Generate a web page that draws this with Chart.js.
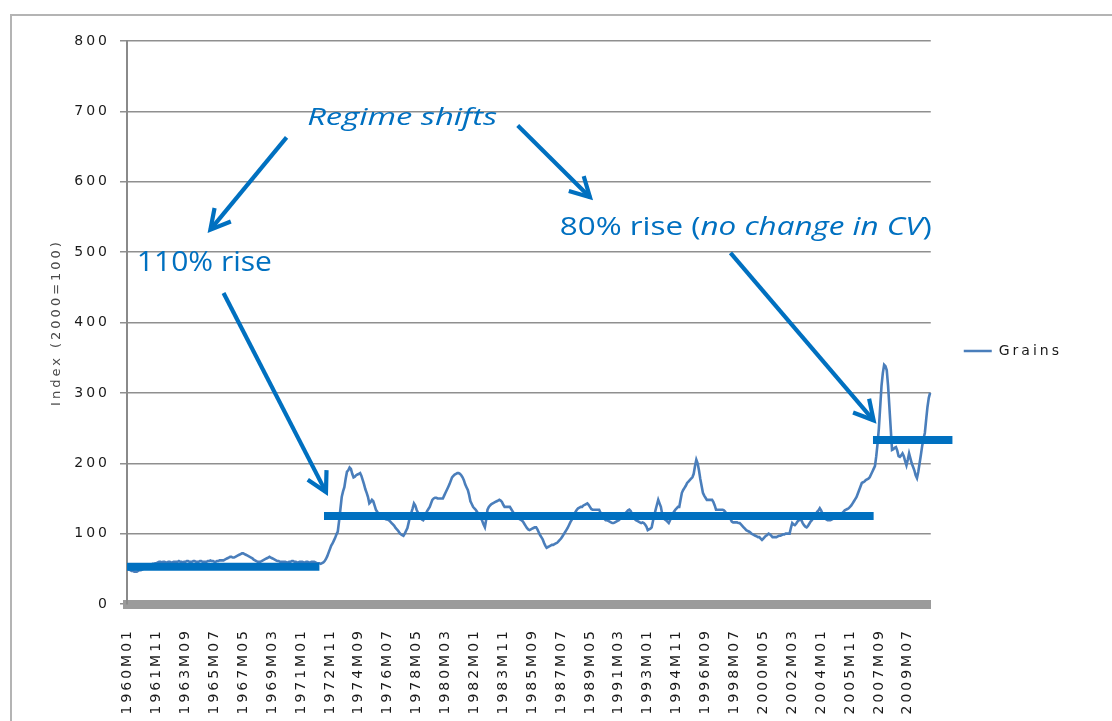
<!DOCTYPE html>
<html><head><meta charset="utf-8">
<script src="https://cdn.jsdelivr.net/npm/chart.js@4.4.1/dist/chart.umd.min.js"></script>
<style>html,body{margin:0;padding:0;background:#fff;overflow:hidden}#wrap{position:relative;width:1112px;height:721px}</style>
</head><body><div id="wrap"><canvas id="c" width="1112" height="721"></canvas></div>
<script>
// ---------------- DATA ----------------
const START_YEAR = 1960;
const SERIES_NAME = 'Grains';
const Y_TITLE = 'Index (2000=100)';

const GRAINS_1960S = [
  50,49,48,47,47,46,46,46,47,48,48,49, // 1960
  50,51,52,53,54,55,56,57,57,58,58,59, // 1961
  60,60,59,60,60,59,59,60,60,59,59,60, // 1962
  60,60,60,61,60,60,59,60,60,61,61,60, // 1963
  60,60,61,61,60,60,60,61,61,60,60,60, // 1964
  60,61,61,62,61,61,60,60,61,61,62,62, // 1965
  62,62,63,64,65,66,67,67,66,66,67,68, // 1966
  69,70,71,72,72,71,70,69,68,67,66,65, // 1967
  63,62,61,60,60,60,61,62,63,64,65,66, // 1968
  67,66,65,64,63,62,61,61,60,60,60,60  // 1969
];
const GRAINS_1970S = [
  60,59,59,60,60,61,61,60,60,59,59,60, // 1970
  60,60,59,59,60,60,59,59,60,60,60,59, // 1971
  58,58,58,57,58,59,61,64,68,73,78,83, // 1972
  86,90,94,99,103,118,135,152,160,166,178,188, // 1973
  190,194,192,185,180,181,183,184,185,186,182,176, // 1974
  170,163,158,152,143,145,148,146,140,134,131,128, // 1975
  126,125,124,122,121,120,120,119,117,115,113,111, // 1976
  108,106,104,101,99,98,97,100,104,108,116,124, // 1977
  130,136,143,140,134,130,126,122,120,119,122,128, // 1978
  132,135,138,143,148,150,151,151,150,150,150,150  // 1979
];
const GRAINS_1980S = [
  150,154,158,162,166,170,175,180,182,184,185,186, // 1980
  186,185,183,180,176,170,166,162,155,146,142,138, // 1981
  136,134,131,128,125,122,118,113,109,120,134,138, // 1982
  140,142,143,144,145,146,147,148,147,145,141,138, // 1983
  138,138,138,138,135,132,129,126,124,122,121,120, // 1984
  119,117,114,111,108,106,105,106,107,108,109,109, // 1985
  106,102,98,95,92,87,83,80,81,82,83,84,           // 1986
  84,85,86,87,89,91,93,96,99,102,105,108,          // 1987
  112,116,119,123,127,131,134,136,137,138,138,140, // 1988
  141,142,143,141,138,135,134,134,134,134,134,134  // 1989
];
const GRAINS_1990S = [
  130,126,123,121,119,119,118,117,116,115,115,116, // 1990
  117,118,119,121,123,125,127,129,131,133,134,132, // 1991
  128,124,121,119,118,117,116,115,116,115,113,110, // 1992
  105,106,107,109,118,126,134,141,148,143,138,128, // 1993
  122,120,119,117,115,119,124,128,131,134,136,138, // 1994
  138,148,158,162,165,168,172,174,176,178,180,185, // 1995
  196,205,200,190,178,168,158,154,151,148,148,148, // 1996
  148,148,145,140,134,134,134,134,134,134,133,131, // 1997
  128,126,124,121,117,116,116,116,116,115,115,113, // 1998
  111,109,107,105,104,103,102,100,99,98,97,96      // 1999
];
const GRAINS_2000S = [
  95,95,93,91,93,95,97,98,100,99,97,95,            // 2000
  95,95,95,96,97,97,98,99,99,100,100,100,          // 2001
  100,108,115,113,112,114,117,119,120,119,115,112, // 2002
  110,109,111,114,117,119,122,125,128,131,133,136, // 2003
  133,129,125,122,120,119,119,119,120,121,122,123, // 2004
  124,125,126,127,129,131,133,134,135,136,138,140, // 2005
  143,146,149,152,157,162,167,172,173,174,176,177, // 2006
  178,180,184,188,192,196,210,228,250,280,310,328, // 2007
  340,338,332,310,280,250,219,220,222,223,218,210, // 2008
  209,211,214,210,203,197,205,214,207,200,195,190  // 2009
];
const GRAINS_2010S = [
  183,179,188,200,212,225,235,243,262,280,293,300  // 2010
];
const GRAINS = [].concat(GRAINS_1960S, GRAINS_1970S, GRAINS_1980S, GRAINS_1990S, GRAINS_2000S, GRAINS_2010S);

const TICK_LABELS = ['1960M01','1961M11','1963M09','1965M07','1967M05','1969M03','1971M01',
  '1972M11','1974M09','1976M07','1978M05','1980M03','1982M01','1983M11','1985M09','1987M07',
  '1989M05','1991M03','1993M01','1994M11','1996M09','1998M07','2000M05','2002M03','2004M01',
  '2005M11','2007M09','2009M07'];
const Y_MIN = 0, Y_MAX = 800, Y_STEP = 100;

// regime levels (month from, month to, index level)
const REGIME_FROM  = ['1960M01', '1972M07', '2007M05'];
const REGIME_TO    = ['1972M03', '2007M05', '2012M05'];
const REGIME_LEVEL = [53, 125, 233];

// arrows: [month, value] tail -> head
const ARROW_FROM = [['1970M02',663], ['1984M10',680], ['1966M02',442], ['1998M04',499]];
const ARROW_TO   = [['1965M04',532], ['1989M05',578], ['1972M08',159], ['2007M05',261]];

// annotation texts: parts [text, italic], anchor [month, value]
const NOTE_PARTS = [
  [['Regime shifts', true]],
  [['110% rise', false]],
  [['80% rise (', false], ['no change in CV', true], [')', false]]
];
const NOTE_AT = [['1977M06', 690], ['1960M08', 484], ['1987M06', 535]];

// ---------------- STYLE ----------------
const CATEGORIES = GRAINS.map((_, i) => (START_YEAR + Math.floor(i / 12)) + 'M' + String(i % 12 + 1).padStart(2, '0'));
const monthIndex = lab => (parseInt(lab.slice(0, 4)) - START_YEAR) * 12 + parseInt(lab.slice(5)) - 1;
const BLUE = '#0070C0';
const NOTE_STYLE = [
  {size: 23, width: 190, align: 'center'},
  {size: 27, width: 135, align: 'left'},
  {size: 26, width: 372, align: 'left'}
];
const SPACING = '3px';

const spacingPlugin = {
  id: 'spacing',
  beforeLayout(c) { c.ctx.letterSpacing = SPACING; },
  beforeDraw(c) {
    const ctx = c.ctx;
    ctx.letterSpacing = SPACING;
    ctx.save();
    ctx.strokeStyle = '#b4b4b4';
    ctx.lineWidth = 2;
    ctx.strokeRect(11, 15, 1300, 900);
    ctx.restore();
  }
};

const annotPlugin = {
  id: 'annot',
  afterDatasetsDraw(chart) {
    const {ctx, scales: {x, y}} = chart;
    const x0 = x.getPixelForValue(0), step = x.getPixelForValue(1) - x0;
    const px = lab => x0 + monthIndex(lab) * step;
    ctx.save();
    ctx.letterSpacing = '0px';
    ctx.strokeStyle = BLUE;
    ctx.fillStyle = BLUE;
    // regime levels
    ctx.lineWidth = 8;
    ctx.lineCap = 'butt';
    REGIME_LEVEL.forEach((v, k) => {
      const yy = y.getPixelForValue(v);
      ctx.beginPath();
      ctx.moveTo(px(REGIME_FROM[k]) - step / 2, yy);
      ctx.lineTo(px(REGIME_TO[k]), yy);
      ctx.stroke();
    });
    // arrows
    ctx.lineWidth = 4.2;
    ctx.lineJoin = 'miter';
    ARROW_FROM.forEach((f, k) => {
      const t = ARROW_TO[k];
      const ax = px(f[0]), ay = y.getPixelForValue(f[1]);
      const bx = px(t[0]), by = y.getPixelForValue(t[1]);
      const ang = Math.atan2(by - ay, bx - ax);
      ctx.beginPath();
      ctx.moveTo(ax, ay);
      ctx.lineTo(bx, by);
      ctx.stroke();
      const L = 22, a = 0.5;
      ctx.beginPath();
      ctx.moveTo(bx - L * Math.cos(ang - a), by - L * Math.sin(ang - a));
      ctx.lineTo(bx, by);
      ctx.lineTo(bx - L * Math.cos(ang + a), by - L * Math.sin(ang + a));
      ctx.stroke();
    });
    // texts
    ctx.textBaseline = 'middle';
    ctx.textAlign = 'left';
    NOTE_PARTS.forEach((parts, k) => {
      const st = NOTE_STYLE[k];
      const fnt = it => (it ? 'italic ' : '') + st.size + 'px "Open Sans"';
      let W = 0;
      parts.forEach(p => { ctx.font = fnt(p[1]); W += ctx.measureText(p[0]).width; });
      const sx = st.width / W;
      let xx = px(NOTE_AT[k][0]);
      const yy = y.getPixelForValue(NOTE_AT[k][1]);
      if (st.align === 'center') xx -= st.width / 2;
      ctx.save();
      ctx.translate(xx, yy);
      ctx.scale(sx, 1);
      let cx = 0;
      parts.forEach(p => {
        ctx.font = fnt(p[1]);
        ctx.fillText(p[0], cx, 0);
        cx += ctx.measureText(p[0]).width;
      });
      ctx.restore();
    });
    ctx.restore();
  }
};

new Chart(document.getElementById('c'), {
  type: 'line',
  data: {
    labels: CATEGORIES,
    datasets: [{
      label: SERIES_NAME,
      data: GRAINS,
      borderColor: '#4A7EBB',
      backgroundColor: '#4A7EBB',
      borderWidth: 2.6,
      pointRadius: 0,
      tension: 0,
      fill: false
    }]
  },
  options: {
    responsive: false,
    animation: false,
    events: [],
    layout: {padding: {left: 12, top: 41, right: 40, bottom: 0}},
    plugins: {
      tooltip: {enabled: false},
      legend: {
        position: 'right',
        align: 'start',
        title: {display: true, text: ' ', font: {size: 10}, padding: {top: 258, bottom: 0}},
        labels: {
          usePointStyle: true,
          pointStyle: 'line',
          pointStyleWidth: 28,
          padding: 33,
          color: '#1a1a1a',
          font: {family: 'DejaVu Sans', size: 14}
        }
      }
    },
    scales: {
      x: {
        type: 'category',
        offset: true,
        grid: {display: false},
        border: {display: true, color: '#9b9b9b', width: 9},
        ticks: {
          autoSkip: false,
          minRotation: 90,
          maxRotation: 90,
          padding: 16,
          color: '#1a1a1a',
          font: {family: 'DejaVu Sans', size: 14},
          callback: (v, i) => TICK_LABELS.includes(CATEGORIES[i]) ? CATEGORIES[i] : null
        },
        afterFit: s => { s.height = 117; }
      },
      y: {
        min: Y_MIN, max: Y_MAX,
        grid: {color: '#8f8f8f', lineWidth: 1.5, tickLength: 7},
        border: {display: true, color: '#8a8a8a', width: 2},
        ticks: {stepSize: Y_STEP, padding: 10, color: '#1a1a1a', font: {family: 'DejaVu Sans', size: 14}},
        title: {display: true, text: Y_TITLE, color: '#4a4a4a', font: {family: 'DejaVu Sans', size: 13}, padding: {top: 37, bottom: 0}},
        afterFit: s => { s.width = 115; }
      }
    }
  },
  plugins: [spacingPlugin, annotPlugin]
});
</script></body></html>
